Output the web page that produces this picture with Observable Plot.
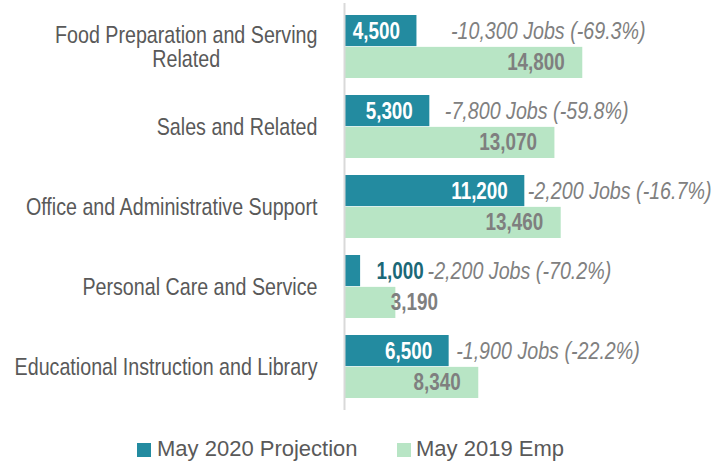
<!DOCTYPE html>
<html>
<head>
<meta charset="utf-8">
<script src="https://cdn.jsdelivr.net/npm/d3@7"></script>
<script src="https://cdn.jsdelivr.net/npm/@observablehq/plot@0.6"></script>
<style>
  html, body { margin: 0; padding: 0; background: #fff; }
  body { width: 727px; height: 464px; position: relative; overflow: hidden;
         font-family: "Liberation Sans", Arial, sans-serif; }
  #legend .sw { position: absolute; width: 14px; height: 14px; top: 443px; }
  #legend .lab { position: absolute; top: 438px; font-size: 22px; line-height: 22px;
                 color: #595959; white-space: nowrap; }
</style>
</head>
<body>
<div id="chart"></div>
<div id="legend"></div>
<script>
// ---- data ----
const categories = [
  "Food Preparation and Serving\nRelated",
  "Sales and Related",
  "Office and Administrative Support",
  "Personal Care and Service",
  "Educational Instruction and Library"
];
const proj2020 = [4500, 5300, 11200, 1000, 6500];
const emp2019 = [14800, 13070, 13460, 3190, 8340];
const jobChange = [-10300, -7800, -2200, -2200, -1900];
const pctChange = [-69.3, -59.8, -16.7, -70.2, -22.2];
const seriesNames = ["May 2020 Projection", "May 2019 Emp"];

// ---- styling ----
const colors = ["#238BA0", "#B8E5C5"];
const noteDx = [34, 15, 3, 67, 7];
const NARROW = 0.82; // emulate a narrow sans face
const FONT = '"Liberation Sans", Arial, sans-serif';

const rows = categories.map((c, i) => ({
  cat: c, proj: proj2020[i], emp: emp2019[i],
  note: `-${d3.format(",")(Math.abs(jobChange[i]))} Jobs (${pctChange[i].toFixed(1)}%)`
}));

const width = 727, height = 428, marginTop = 3, marginBottom = 18;
const pi = 0.217, po = 0.149;
const step = (height - marginTop - marginBottom) / (categories.length - pi + 2 * po);
const bw = step * (1 - pi);
const half = bw / 2;
const fmt = d3.format(",");

const chart = Plot.plot({
  width, height, marginTop, marginBottom, marginLeft: 344, marginRight: 61,
  style: { fontFamily: FONT, background: "#fff" },
  x: { domain: [0, 20000], axis: null },
  y: { domain: categories, paddingInner: pi, paddingOuter: po, label: null },
  marks: [
    Plot.barX(rows, { y: "cat", x: "proj", fill: colors[0], insetBottom: half + 0.5 }),
    Plot.barX(rows, { y: "cat", x: "emp", fill: colors[1], insetTop: half + 0.5 }),
    Plot.ruleX([0], { stroke: "#D9D9D9", strokeWidth: 2 }),
    Plot.axisY({ tickSize: 0, tickPadding: 27, fontSize: 24, fill: "#595959", lineHeight: 1.02 }),
    // value labels, dark bars
    Plot.text(rows.filter(d => d.proj >= 3000), { y: "cat", x: "proj", text: d => fmt(d.proj), dy: -half / 2,
      textAnchor: "end", dx: -17, fill: "#fff", fontWeight: "bold", fontSize: 23 }),
    Plot.text(rows.filter(d => d.proj < 3000), { y: "cat", x: "proj", text: d => fmt(d.proj), dy: -half / 2,
      textAnchor: "start", dx: 16, fill: "#1B6877", fontWeight: "bold", fontSize: 23 }),
    // value labels, light bars
    Plot.text(rows.filter(d => d.emp >= 5000), { y: "cat", x: "emp", text: d => fmt(d.emp), dy: half / 2,
      textAnchor: "end", dx: -18, fill: "#7F7F7F", fontWeight: "bold", fontSize: 23 }),
    Plot.text(rows.filter(d => d.emp < 5000), { y: "cat", x: "emp", text: d => fmt(d.emp), dy: half / 2,
      textAnchor: "start", dx: -5, fill: "#7F7F7F", fontWeight: "bold", fontSize: 23 }),
    // annotations, one mark per category so each can carry its own offset
    ...rows.map((d, i) => Plot.text([d], { y: "cat", x: "proj", text: "note", dy: -half / 2,
      textAnchor: "start", dx: noteDx[i], fill: "#808080", fontStyle: "italic", fontSize: 24 }))
  ]
});

document.getElementById("chart").appendChild(chart);

// center multi-line category labels like the reference
chart.querySelectorAll('g[aria-label="y-axis tick label"] text').forEach(t => {
  const spans = t.querySelectorAll("tspan");
  if (spans.length > 1) {
    const w = t.getBBox().width;
    t.setAttribute("text-anchor", "middle");
    spans.forEach(s => s.setAttribute("x", -w / 2));
  }
});

// horizontally condense all chart text around its anchor point
chart.querySelectorAll("text").forEach(t => {
  const tr = t.getAttribute("transform");
  if (tr) {
    t.setAttribute("transform", tr + ` scale(${NARROW},1)`);
  } else {
    const x = +(t.getAttribute("x") || 0), y = +(t.getAttribute("y") || 0);
    t.setAttribute("transform", `translate(${x},${y}) scale(${NARROW},1) translate(${-x},${-y})`);
  }
});

// legend
const legend = document.getElementById("legend");
const swLeft = [137, 397], labLeft = [157, 416];
seriesNames.forEach((name, i) => {
  const sw = document.createElement("div");
  sw.className = "sw";
  sw.style.background = colors[i];
  sw.style.left = swLeft[i] + "px";
  const lab = document.createElement("div");
  lab.className = "lab";
  lab.style.left = labLeft[i] + "px";
  lab.textContent = name;
  legend.appendChild(sw); legend.appendChild(lab);
});
</script>
</body>
</html>
